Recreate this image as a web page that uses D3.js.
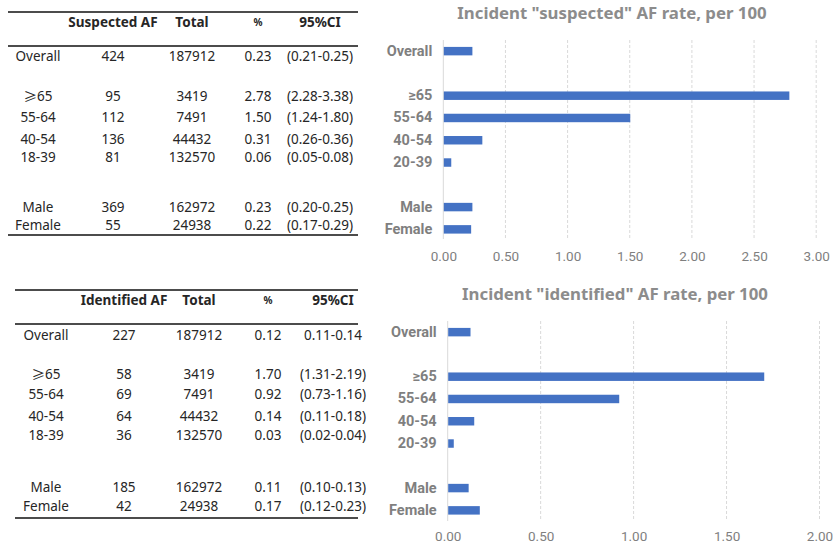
<!DOCTYPE html>
<html>
<head>
<meta charset="utf-8">
<script src="https://cdn.jsdelivr.net/npm/d3@7/dist/d3.min.js"></script>
<style>
  html, body { margin: 0; padding: 0; background: #fff; }
  svg { display: block; }
</style>
</head>
<body>
<svg id="chart" width="833" height="548"></svg>
<script>
// ---- Data ----
const tableRowLabels = ["Overall", "≥65", "55-64", "40-54", "18-39", "Male", "Female"];
const totals = [187912, 3419, 7491, 44432, 132570, 162972, 24938];

const suspectedCounts = [424, 95, 112, 136, 81, 369, 55];
const suspectedPct = ["0.23", "2.78", "1.50", "0.31", "0.06", "0.23", "0.22"];
const suspectedCI = ["(0.21-0.25)", "(2.28-3.38)", "(1.24-1.80)", "(0.26-0.36)", "(0.05-0.08)", "(0.20-0.25)", "(0.17-0.29)"];

const identifiedCounts = [227, 58, 69, 64, 36, 185, 42];
const identifiedPct = ["0.12", "1.70", "0.92", "0.14", "0.03", "0.11", "0.17"];
const identifiedCI = ["0.11-0.14", "(1.31-2.19)", "(0.73-1.16)", "(0.11-0.18)", "(0.02-0.04)", "(0.10-0.13)", "(0.12-0.23)"];

// Chart categories; empty strings are spacer slots between groups
const chartCategories = ["Overall", "", "≥65", "55-64", "40-54", "20-39", "", "Male", "Female"];
// Maps each table row to its chart slot
const chartSlotOfRow = [0, 2, 3, 4, 5, 7, 8];

const suspectedTicks = [0, 0.5, 1, 1.5, 2, 2.5, 3];
const identifiedTicks = [0, 0.5, 1, 1.5, 2];

// ---- Styles ----
const tableFont = "'Noto Sans', sans-serif";
const symbolFont = "'Noto Sans CJK SC', sans-serif";
const chartFont = "Roboto, 'Noto Sans', sans-serif";
const titleFont = "'Noto Sans', sans-serif";
const textDark = "#262626";
const chartGray = "#7f7f7f";
const barColor = "#4472C4";
const gridColor = "#d9d9d9";

const svg = d3.select("#chart");

// ---- Tables ----
function drawTable(g, spec) {
  const header = [spec.title, "Total", "%", "95%CI"];
  const cols = spec.cols;
  [spec.top, spec.mid, spec.bottom].forEach(yy => {
    g.append("line").attr("x1", spec.x0).attr("x2", spec.x1)
      .attr("y1", yy).attr("y2", yy)
      .attr("stroke", "#111").attr("stroke-width", 1.4);
  });

  g.selectAll("text.head").data(header).join("text")
    .attr("class", "head")
    .attr("x", (d, i) => cols[i + 1])
    .attr("y", spec.headY)
    .attr("text-anchor", "middle")
    .attr("dominant-baseline", "central")
    .attr("font-family", tableFont)
    .attr("font-weight", "bold")
    .attr("font-size", (d, i) => i === 2 ? 10 : 13.5)
    .attr("fill", textDark)
    .text(d => d);

  const rows = tableRowLabels.map((lab, i) => [lab, spec.counts[i], totals[i], spec.pct[i], spec.ci[i]]);
  const rowG = g.selectAll("g.row").data(rows).join("g")
    .attr("class", "row")
    .attr("transform", (d, i) => `translate(0,${spec.rowY[i]})`);
  rowG.selectAll("text").data(d => d).join("text")
    .attr("x", (d, i) => cols[i])
    .attr("text-anchor", "middle")
    .attr("dominant-baseline", "central")
    .attr("font-family", tableFont)
    .attr("font-size", 13.5)
    .attr("fill", textDark)
    .each(function (d) {
      const s = String(d);
      const t = d3.select(this);
      if (s.startsWith("≥")) {
        t.append("tspan").attr("font-family", symbolFont).text("≥");
        t.append("tspan").text(s.slice(1));
      } else {
        t.text(s);
      }
    });
}

drawTable(svg.append("g"), {
  title: "Suspected AF",
  counts: suspectedCounts, pct: suspectedPct, ci: suspectedCI,
  x0: 8, x1: 358, top: 12, headY: 22, mid: 46, bottom: 235,
  cols: [38, 113, 192, 258, 320],
  rowY: [56, 96, 117, 139, 157, 207, 225]
});

drawTable(svg.append("g"), {
  title: "Identified AF",
  counts: identifiedCounts, pct: identifiedPct, ci: identifiedCI,
  x0: 15, x1: 358, top: 290, headY: 300, mid: 324, bottom: 518,
  cols: [46, 124, 199, 268, 333],
  rowY: [335, 374, 394, 416, 435, 487, 506]
});

// ---- Bar charts ----
function drawBars(g, spec) {
  const x = d3.scaleLinear().domain([0, spec.max]).range([spec.left, spec.right]);
  const y = d3.scaleBand().domain(d3.range(chartCategories.length))
    .range([spec.top, spec.bottom]).paddingInner(0.62).paddingOuter(0.31);

  g.append("text")
    .attr("x", spec.titleX).attr("y", spec.titleY)
    .attr("text-anchor", "middle").attr("dominant-baseline", "central")
    .attr("font-family", titleFont).attr("font-weight", "bold")
    .attr("font-size", 16.8).attr("fill", "#8c8c8c")
    .text(spec.title);

  // dashed vertical gridlines
  g.selectAll("line.grid").data(spec.ticks.filter(t => t > 0)).join("line")
    .attr("class", "grid")
    .attr("x1", d => x(d)).attr("x2", d => x(d))
    .attr("y1", spec.top).attr("y2", spec.gridBottom)
    .attr("stroke", gridColor).attr("stroke-width", 1)
    .attr("stroke-dasharray", "3,2");

  // category axis line
  g.append("line")
    .attr("x1", x(0)).attr("x2", x(0))
    .attr("y1", spec.top).attr("y2", spec.gridBottom)
    .attr("stroke", gridColor).attr("stroke-width", 1);

  const vals = spec.values.map(Number);
  g.selectAll("rect.bar").data(vals).join("rect")
    .attr("class", "bar")
    .attr("x", x(0) + 0.5)
    .attr("y", (d, i) => y(chartSlotOfRow[i]))
    .attr("width", d => x(d) - x(0))
    .attr("height", y.bandwidth())
    .attr("fill", barColor);

  // category labels
  const yAxis = d3.axisLeft(y).tickSize(0).tickPadding(11)
    .tickFormat(i => chartCategories[i]);
  const ya = g.append("g").attr("transform", `translate(${x(0)},0)`).call(yAxis);
  ya.select(".domain").remove();
  ya.selectAll("text")
    .attr("dy", null).attr("dominant-baseline", "central")
    .attr("font-family", chartFont).attr("font-weight", "bold")
    .attr("font-size", 14.5).attr("fill", chartGray);

  // value axis labels
  const xAxis = d3.axisBottom(x).tickValues(spec.ticks).tickSize(0).tickPadding(0)
    .tickFormat(d3.format(".2f"));
  const xa = g.append("g").attr("transform", `translate(0,${spec.tickY})`).call(xAxis);
  xa.select(".domain").remove();
  xa.selectAll("text")
    .attr("dy", null).attr("dominant-baseline", "central")
    .attr("font-family", chartFont).attr("font-size", 13.5).attr("fill", chartGray);
}

drawBars(svg.append("g"), {
  title: "Incident \"suspected\" AF rate, per 100",
  values: suspectedPct, max: 3, ticks: suspectedTicks,
  left: 443.3, right: 816.2, top: 40, bottom: 240.5, gridBottom: 239,
  titleX: 612, titleY: 12, tickY: 256
});

drawBars(svg.append("g"), {
  title: "Incident \"identified\" AF rate, per 100",
  values: identifiedPct, max: 2, ticks: identifiedTicks,
  left: 447.7, right: 819.5, top: 321, bottom: 521.5, gridBottom: 521,
  titleX: 615, titleY: 293, tickY: 536
});
</script>
</body>
</html>
